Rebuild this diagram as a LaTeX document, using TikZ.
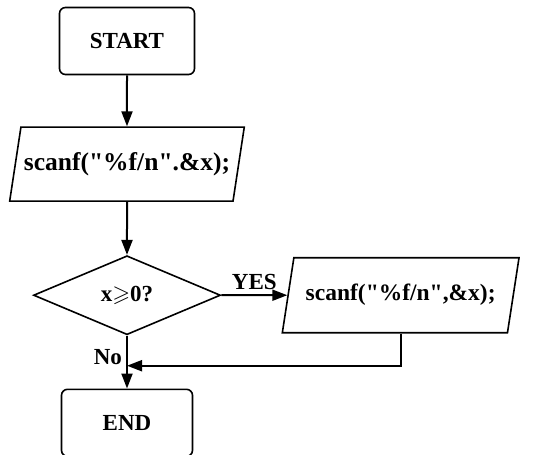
\documentclass[tikz,border=0pt]{standalone}
\usepackage{fontspec}
\usepackage{amssymb}
\setmainfont{Liberation Serif}[Ligatures=TeXOff]
\usetikzlibrary{shapes.geometric, arrows.meta, positioning, calc}

\begin{document}
\begin{tikzpicture}[
      x=1pt, y=1pt,
      terminal/.style={rectangle, draw, rounded corners=6pt, line width=1.6pt, minimum width=135pt, minimum height=67pt, align=center, font=\fontsize{23}{27}\selectfont\bfseries},
      io/.style={trapezium, trapezium left angle=70, trapezium right angle=110, trapezium stretches=true, draw, line width=1.6pt, minimum width=235pt, minimum height=74pt, inner xsep=0pt, align=center, font=\fontsize{23.5}{27}\selectfont\bfseries},
      decision/.style={diamond, draw, aspect=2.4, line width=1.6pt, inner sep=0pt, minimum width=187pt, minimum height=79pt, align=center, font=\fontsize{23}{27}\selectfont\bfseries},
      arrow/.style={-{Triangle[length=15pt, width=11pt]}, line width=2pt},
      label/.style={font=\fontsize{23}{27}\selectfont\bfseries, inner sep=4pt}
      ]

      \useasboundingbox (0,0) rectangle (539,-455);

      % Start
      \node[terminal] (start) at (127,-41) {START};

      % First input
      \node[io, below=51pt of start, font=\fontsize{25.5}{29}\selectfont\bfseries] (read1) {scanf("\%f/n".\&x);};

      % Test
      \node[decision, below=53pt of read1] (test) {x$\geqslant$0?};

      % Second input - to the right
      \node[io, right=66pt of test, minimum width=237pt, minimum height=75pt] (read2) {scanf("\%f/n",\&x);};

      % End
      \node[terminal, below=53pt of test, minimum width=131pt] (stop) {END};

      % Merge point on the No branch
      \coordinate (mrg) at ($(test.south)!0.57!(stop.north)$);

      % Arrows
      \draw[arrow] (start) -- (read1);
      \draw[arrow] (read1) -- (test);
      \draw[arrow] (test) -- node[label, above] {YES} (read2);
      \draw[arrow] (test) -- node[label, left, pos=0.4] {No} (stop);
      \draw[arrow] (read2.south) |- (mrg);

   \end{tikzpicture}
\end{document}
